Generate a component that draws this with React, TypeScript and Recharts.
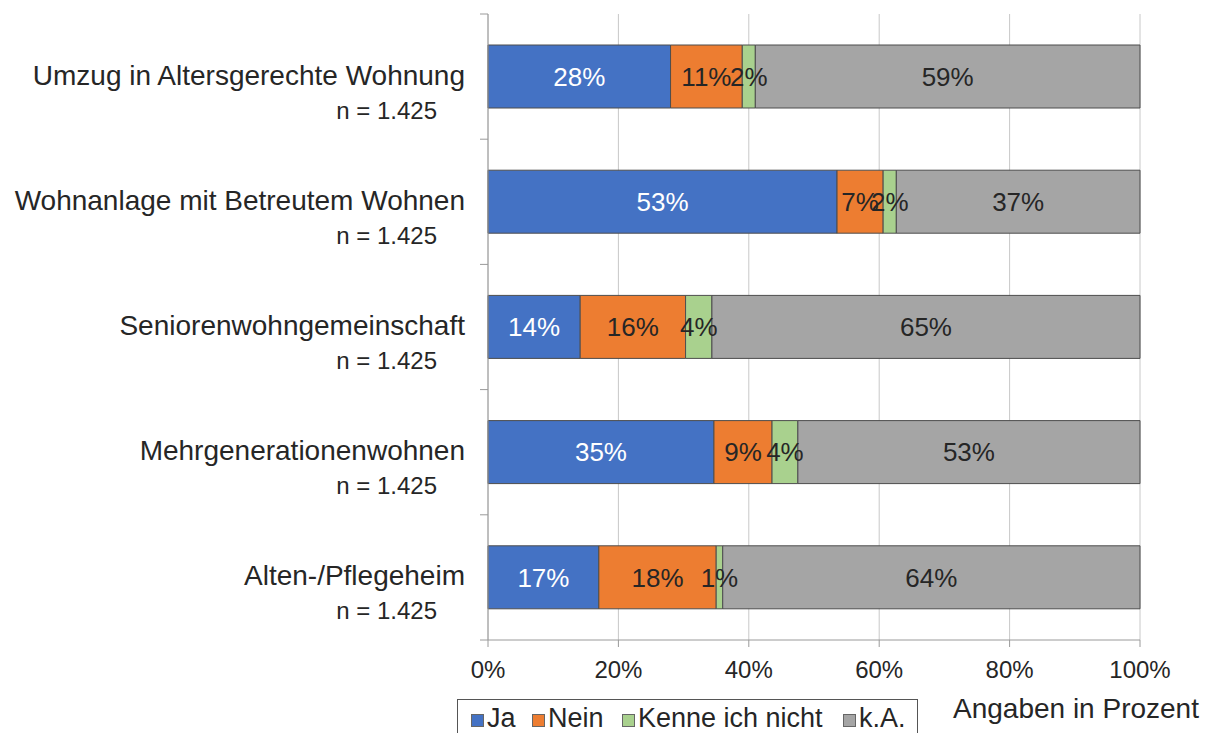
import { Bar, BarChart, CartesianGrid, LabelList, XAxis, YAxis } from "recharts";

const categories = [
  "Umzug in Altersgerechte Wohnung",
  "Wohnanlage mit Betreutem Wohnen",
  "Seniorenwohngemeinschaft",
  "Mehrgenerationenwohnen",
  "Alten-/Pflegeheim"
];
const sampleSizes = ["n = 1.425", "n = 1.425", "n = 1.425", "n = 1.425", "n = 1.425"];

const ja = [28, 53, 14, 35, 17];
const nein = [11, 7, 16, 9, 18];
const kenneIchNicht = [2, 2, 4, 4, 1];
const keineAngabe = [59, 37, 65, 53, 64];

const xTicks = [0, 20, 40, 60, 80, 100];

const seriesNames = ["Ja", "Nein", "Kenne ich nicht", "k.A."];
const seriesColors = ["#4472c4", "#ed7d31", "#a9d18e", "#a5a5a5"];

const chartData = categories.map((name, i) => ({
  name,
  n: sampleSizes[i],
  ja: ja[i],
  nein: nein[i],
  kenne: kenneIchNicht[i],
  ka: keineAngabe[i]
}));

const textColor = "#262626";
const axisColor = "#9a9a9a";

function CategoryTick(props: any) {
  const { x, y, payload, index } = props;
  const half = payload?.offset || 62.6;
  const isLast = index === categories.length - 1;
  return (
    <g>
      <text x={x - 23} y={y + 8} textAnchor="end" fontSize={28} fill={textColor}>
        {payload.value}
      </text>
      <text x={x - 51} y={y + 42} textAnchor="end" fontSize={24} fill={textColor}>
        {sampleSizes[index] ?? ""}
      </text>
      <line x1={x - 8} x2={x} y1={y - half} y2={y - half} stroke={axisColor} />
      {isLast && <line x1={x - 8} x2={x} y1={y + half} y2={y + half} stroke={axisColor} />}
    </g>
  );
}

const pct = (v: any) => `${v}%`;

export default function App() {
  return (
    <div
      style={{
        position: "absolute",
        left: 0,
        top: 0,
        width: 1207,
        height: 733,
        background: "#fff",
        fontFamily: "'Liberation Sans', Arial, sans-serif",
        overflow: "hidden"
      }}
    >
      <BarChart
        width={1207}
        height={733}
        data={chartData}
        layout="vertical"
        stackOffset="expand"
        margin={{ top: 14, right: 67, bottom: 43, left: 0 }}
      >
        <CartesianGrid horizontal={false} stroke="#c8c8c8" />
        <XAxis
          type="number"
          domain={[0, 1]}
          ticks={xTicks.map((t) => t / 100)}
          interval={0}
          tickFormatter={(v) => `${Math.round(v * 100)}%`}
          axisLine={{ stroke: axisColor }}
          tickLine={{ stroke: axisColor }}
          tickSize={7}
          tickMargin={14}
          height={50}
          tick={{ fill: textColor, fontSize: 24 }}
        />
        <YAxis
          type="category"
          dataKey="name"
          width={488}
          interval={0}
          axisLine={{ stroke: axisColor }}
          tickLine={false}
          tickSize={0}
          tickMargin={0}
          tick={<CategoryTick />}
        />
        <Bar dataKey="ja" name="Ja" stackId="a" fill={seriesColors[0]} stroke="#4d4d4d" strokeWidth={1} barSize={63} isAnimationActive={false}>
          <LabelList dataKey="ja" position="center" fill="#ffffff" fontSize={26} formatter={pct} />
        </Bar>
        <Bar dataKey="nein" name="Nein" stackId="a" fill={seriesColors[1]} stroke="#4d4d4d" strokeWidth={1} barSize={63} isAnimationActive={false}>
          <LabelList dataKey="nein" position="center" fill={textColor} fontSize={26} formatter={pct} />
        </Bar>
        <Bar dataKey="kenne" name="Kenne ich nicht" stackId="a" fill={seriesColors[2]} stroke="#4d4d4d" strokeWidth={1} barSize={63} isAnimationActive={false}>
          <LabelList dataKey="kenne" position="center" fill={textColor} fontSize={26} formatter={pct} />
        </Bar>
        <Bar dataKey="ka" name="k.A." stackId="a" fill={seriesColors[3]} stroke="#4d4d4d" strokeWidth={1} barSize={63} isAnimationActive={false}>
          <LabelList dataKey="ka" position="center" fill={textColor} fontSize={26} formatter={pct} />
        </Bar>
      </BarChart>

      {/* legend box, cut off by the bottom edge like in the original */}
      <div
        style={{
          position: "absolute",
          left: 457,
          top: 699,
          width: 461,
          height: 44,
          border: "1.5px solid #555",
          boxSizing: "border-box"
        }}
      >
        {seriesNames.map((name, i) => (
          <div
            key={name}
            style={{
              position: "absolute",
              left: [13, 74, 164, 385][i],
              top: 4,
              display: "flex",
              alignItems: "center",
              whiteSpace: "nowrap",
              fontSize: 27,
              lineHeight: "29px",
              color: textColor
            }}
          >
            <span
              style={{
                display: "inline-block",
                width: 13,
                height: 13,
                background: seriesColors[i],
                border: "1px solid #666",
                boxSizing: "border-box",
                marginRight: 3,
                marginTop: 4
              }}
            />
            {name}
          </div>
        ))}
      </div>

      <div
        style={{
          position: "absolute",
          left: 953,
          top: 695,
          fontSize: 28,
          lineHeight: "28px",
          color: textColor,
          whiteSpace: "nowrap"
        }}
      >
        Angaben in Prozent
      </div>
    </div>
  );
}
